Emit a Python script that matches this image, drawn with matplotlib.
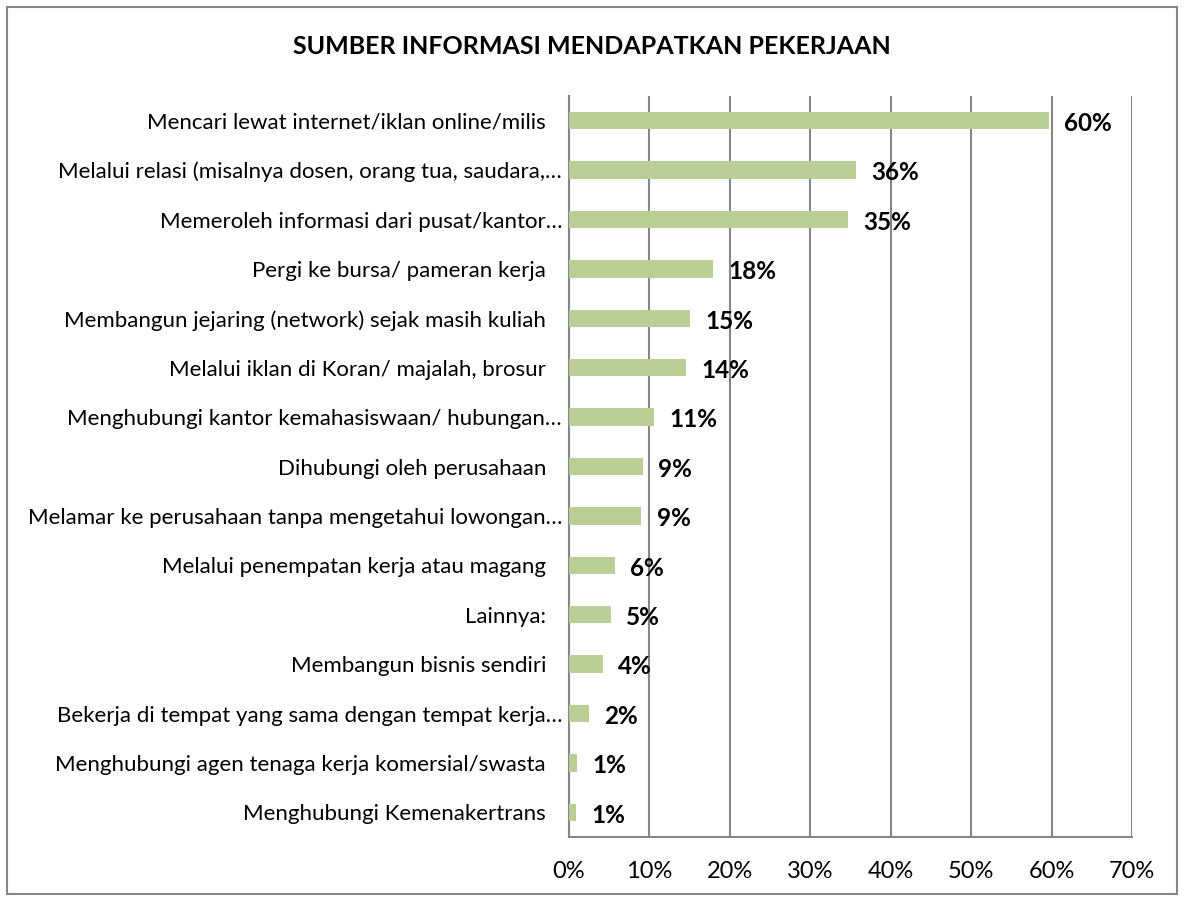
import matplotlib
matplotlib.use("Agg")
import matplotlib.pyplot as plt
from matplotlib.patches import Rectangle

plt.rcParams['font.family'] = ['Lato', 'DejaVu Sans']

categories = [
    "Mencari lewat internet/iklan online/milis",
    "Melalui relasi (misalnya dosen, orang tua, saudara,…",
    "Memeroleh informasi dari pusat/kantor…",
    "Pergi ke bursa/ pameran kerja",
    "Membangun jejaring (network) sejak masih kuliah",
    "Melalui iklan di Koran/ majalah, brosur",
    "Menghubungi kantor kemahasiswaan/ hubungan…",
    "Dihubungi oleh perusahaan",
    "Melamar ke perusahaan tanpa mengetahui lowongan…",
    "Melalui penempatan kerja atau magang",
    "Lainnya:",
    "Membangun bisnis sendiri",
    "Bekerja di tempat yang sama dengan tempat kerja…",
    "Menghubungi agen tenaga kerja komersial/swasta",
    "Menghubungi Kemenakertrans",
]
values = [59.7, 35.7, 34.7, 17.9, 15.0, 14.6, 10.6, 9.2, 9.0, 5.7, 5.2, 4.2, 2.5, 1.0, 0.9]
labels = ["60%", "36%", "35%", "18%", "15%", "14%", "11%", "9%", "9%", "6%", "5%", "4%", "2%", "1%", "1%"]
xticks = [0, 10, 20, 30, 40, 50, 60, 70]
title = "SUMBER INFORMASI MENDAPATKAN PEKERJAAN"

W, H = 1184, 901
fig = plt.figure(figsize=(W / 100, H / 100), dpi=100)
fig.patch.set_facecolor("white")

# outer border
fig.add_artist(Rectangle((7 / W, 1 - 894 / H), (1177 - 7) / W, (894 - 7) / H,
                         transform=fig.transFigure, fill=False,
                         edgecolor="#868686", linewidth=1.5))

left, right, top, bottom = 569, 1132, 96, 837
ax = fig.add_axes([left / W, 1 - bottom / H, (right - left) / W, (bottom - top) / H])

n = len(categories)
ypos = list(range(n))
ax.barh(ypos, values, height=0.35, color="#BACF96", zorder=3)
ax.set_ylim(n - 0.5, -0.5)
ax.set_xlim(0, 70)

ax.set_yticks(ypos)
ax.set_yticklabels(categories, fontsize=16, color="#000000")
ax.set_xticks(xticks)
ax.set_xticklabels([f"{t}%" for t in xticks], fontsize=17)
ax.tick_params(axis='both', length=0)
ax.tick_params(axis='x', pad=17.5)
for tick, cat in zip(ax.yaxis.get_major_ticks(), categories):
    tick.set_pad(5 if cat.endswith("…") else 16.5)

ax.xaxis.grid(True, color="#868686", linewidth=1.5, zorder=0)
for s in ["top", "right"]:
    ax.spines[s].set_visible(False)
for s in ["left", "bottom"]:
    ax.spines[s].set_color("#868686")
    ax.spines[s].set_linewidth(1.5)

for y, v, lab in zip(ypos, values, labels):
    ax.annotate(lab, (v, y), xytext=(11, -2), textcoords="offset points",
                ha="left", va="center", fontsize=17.5, fontweight="bold", zorder=4)

fig.text(592 / W, 1 - 47 / H, title, ha="center", va="center",
         fontsize=18, fontweight="bold")

fig.savefig("out.png", dpi=100, facecolor="white")
